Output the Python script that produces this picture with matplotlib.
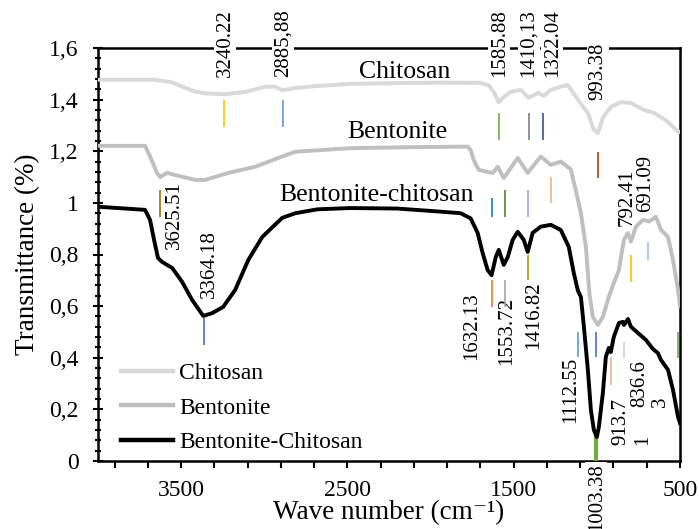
import matplotlib
matplotlib.use("Agg")
import matplotlib.pyplot as plt
from matplotlib.ticker import FixedLocator, MultipleLocator, FuncFormatter

plt.rcParams['font.family'] = ['Liberation Serif', 'DejaVu Serif']

# ---------------- data ----------------
chitosan_wn = [4000, 3660, 3560, 3500, 3420, 3355, 3235, 3114, 2994, 2934, 2892, 2813, 2700, 2482,
               2200, 1940, 1700, 1650, 1620, 1590, 1560, 1518, 1458, 1410, 1355, 1319, 1277, 1217,
               1175, 1114, 1054, 1018, 994, 964, 916, 855, 795, 717, 657, 572, 512, 500]
chitosan_t = [1.477, 1.477, 1.468, 1.452, 1.432, 1.424, 1.421, 1.430, 1.450, 1.450, 1.436, 1.445, 1.452,
              1.461, 1.464, 1.466, 1.465, 1.455, 1.430, 1.390, 1.410, 1.430, 1.438, 1.407, 1.426, 1.415,
              1.438, 1.450, 1.457, 1.400, 1.348, 1.283, 1.270, 1.330, 1.372, 1.390, 1.387, 1.360, 1.349,
              1.314, 1.275, 1.275]

bentonite_wn = [4000, 3717, 3687, 3645, 3627, 3584, 3536, 3416, 3355, 3217, 3054, 2892, 2813, 2482,
                2100, 1777, 1759, 1741, 1711, 1657, 1627, 1596, 1560, 1476, 1416, 1337, 1277, 1217,
                1157, 1120, 1096, 1066, 1045, 1024, 994, 964, 928, 898, 867, 855, 837, 813, 795, 765,
                723, 687, 645, 614, 572, 542, 512, 500]
bentonite_t = [1.221, 1.221, 1.180, 1.116, 1.100, 1.116, 1.108, 1.089, 1.089, 1.116, 1.140, 1.180,
               1.198, 1.212, 1.216, 1.218, 1.205, 1.167, 1.128, 1.120, 1.116, 1.140, 1.096, 1.174,
               1.116, 1.180, 1.147, 1.160, 1.130, 1.030, 0.960, 0.830, 0.650, 0.558, 0.527, 0.558,
               0.636, 0.690, 0.740, 0.790, 0.857, 0.883, 0.850, 0.908, 0.934, 0.928, 0.946, 0.895,
               0.868, 0.779, 0.663, 0.600]

composite_wn = [4000, 3717, 3687, 3663, 3639, 3614, 3554, 3494, 3434, 3367, 3313, 3247, 3175, 3096,
                3012, 2892, 2813, 2681, 2482, 2200, 1940, 1819, 1759, 1717, 1687, 1657, 1633, 1608,
                1590, 1560, 1536, 1506, 1476, 1440, 1416, 1386, 1337, 1277, 1217, 1169, 1139, 1114,
                1096, 1078, 1054, 1036, 1018, 1000, 988, 964, 946, 928, 916, 898, 867, 843, 837, 813,
                795, 753, 705, 663, 633, 614, 572, 542, 512, 500]
composite_t = [0.985, 0.973, 0.934, 0.857, 0.786, 0.771, 0.748, 0.694, 0.624, 0.562, 0.573, 0.597,
               0.663, 0.779, 0.868, 0.942, 0.960, 0.975, 0.980, 0.978, 0.966, 0.960, 0.940, 0.884,
               0.806, 0.740, 0.720, 0.790, 0.818, 0.760, 0.790, 0.857, 0.888, 0.857, 0.810, 0.884,
               0.908, 0.915, 0.895, 0.830, 0.729, 0.660, 0.636, 0.520, 0.353, 0.198, 0.120, 0.093,
               0.132, 0.263, 0.403, 0.438, 0.422, 0.481, 0.535, 0.539, 0.527, 0.550, 0.520, 0.496,
               0.469, 0.434, 0.418, 0.391, 0.353, 0.275, 0.171, 0.147]

series_names = ["Chitosan", "Bentonite", "Bentonite-Chitosan"]
series_titles = ["Chitosan", "Bentonite", "Bentonite-chitosan"]

# peak marker wavenumbers (short vertical lines)
marker_wn = [3240.22, 2885.88, 1585.88, 1410.13, 1322.04, 993.38, 3625.51, 3364.18,
             1632.13, 1553.72, 1416.82, 1277.0, 1632.13, 1553.72, 1416.82,
             1112.55, 1003.38, 1003.38, 913.7, 836.6, 792.41, 691.09, 512.0]
# peak labels
label_text = ["3240.22", "2885,88", "1585.88", "1410,13", "1322.04", "993.38", "3625.51", "3364.18",
              "1632.13", "1553.72", "1416.82", "1112.55", "1003.38", "913.7\n1", "836.6\n3",
              "792.41", "691.09"]

# ---------------- layout / styles ----------------
marker_y = [(1.295, 1.399), (1.295, 1.399), (1.244, 1.349), (1.244, 1.349), (1.244, 1.349),
            (1.097, 1.198), (0.946, 1.050), (0.450, 0.554),
            (0.946, 1.019), (0.946, 1.050), (0.946, 1.050), (1.000, 1.100),
            (0.597, 0.700), (0.597, 0.700), (0.700, 0.800),
            (0.403, 0.500), (0.403, 0.500), (0.000, 0.108), (0.295, 0.403), (0.400, 0.460),
            (0.694, 0.800), (0.780, 0.850), (0.400, 0.500)]
marker_col = ["#FFC000", "#5B9BD5", "#70AD47", "#7F7F7F", "#2F5597", "#9E480E", "#997300", "#4472C4",
              "#2E75B6", "#548235", "#8FAADC", "#F4B183", "#ED7D31", "#A5A5A5", "#BF9000",
              "#5B9BD5", "#4472C4", "#70AD47", "#F4B183", "#D0D0D0", "#FFC000", "#9DC3E6", "#70AD47"]
marker_lw = [1.2] * 17 + [3.0] + [1.2] * 5

# label anchor positions (x in wavenumber, y in transmittance), alignment
label_pos = [(3235, 1.618, 'center'), (2886, 1.618, 'center'), (1586, 1.618, 'center'),
             (1410, 1.618, 'center'), (1268, 1.618, 'center'), (993, 1.508, 'center'),
             (3540, 0.952, 'center'), (3330, 0.763, 'center'),
             (1750, 0.523, 'center'), (1540, 0.504, 'center'), (1380, 0.566, 'center'),
             (1160, 0.274, 'center'), (1003, -0.14, 'center'),
             (790, 0.062, 'bottom'), (680, 0.209, 'bottom'),
             (820, 1.023, 'center'), (705, 1.075, 'center')]

fig = plt.figure(figsize=(6.99, 5.29), dpi=100)
ax = fig.add_axes([98 / 699, (529 - 461) / 529, 582 / 699, 413 / 529])

ax.plot(chitosan_wn, chitosan_t, color="#D9D9D9", lw=2.8, zorder=3, label=series_names[0],
        solid_joinstyle='round')
ax.plot(bentonite_wn, bentonite_t, color="#BFBFBF", lw=2.8, zorder=3, label=series_names[1],
        solid_joinstyle='round')
ax.plot(composite_wn, composite_t, color="black", lw=2.8, zorder=3.2, label=series_names[2],
        solid_joinstyle='round')

for wn, (y0, y1), c, lw in zip(marker_wn, marker_y, marker_col, marker_lw):
    ax.plot([wn, wn], [y0, y1], color=c, lw=lw, zorder=3.1, solid_capstyle='butt')

for txt, (x, y, va) in zip(label_text, label_pos):
    ax.text(x, y, txt, rotation=90, ha='center', va=va, fontsize=15, multialignment='left',
            linespacing=1.15, zorder=2.7, clip_on=False,
            bbox=dict(facecolor='white', edgecolor='none', pad=1.0))

title_pos = [(2157, 1.484), (2199, 1.252), (2325, 1.008)]
for t, (x, y) in zip(series_titles, title_pos):
    ax.text(x, y, t, ha='center', va='baseline', fontsize=18.5, zorder=2.7)

ax.set_xlim(4000, 500)
ax.set_ylim(0, 1.6)
ax.xaxis.set_major_locator(FixedLocator([3500, 2500, 1500, 500]))
ax.xaxis.set_minor_locator(MultipleLocator(200, offset=100))
ax.yaxis.set_major_locator(MultipleLocator(0.2))
ax.yaxis.set_minor_locator(MultipleLocator(0.04))


def yfmt(v, pos):
    s = f"{v:.1f}"
    if s.endswith(".0"):
        s = s[:-2]
    return s.replace(".", ",")


ax.yaxis.set_major_formatter(FuncFormatter(yfmt))
ax.tick_params(axis='x', which='both', direction='out', length=5, width=1.5, labelsize=17, pad=9,
               top=False)
ax.tick_params(axis='y', which='major', direction='inout', length=7, width=1.5, labelsize=17, pad=10.5,
               right=False)
ax.tick_params(axis='y', which='minor', direction='inout', length=5, width=1.5, right=False)
for s in ax.spines.values():
    s.set_linewidth(1.8)

ax.set_xlabel("Wave number (cm\u207b\u00b9)", fontsize=19.5, labelpad=-1)
ax.set_ylabel("Transmittance (%)", fontsize=19.5, labelpad=6)

leg = ax.legend(loc='upper left', bbox_to_anchor=(0.040, 0.238), frameon=False, fontsize=17,
                handlelength=2.2, handletextpad=0.25, labelspacing=0.55, borderpad=0,
                borderaxespad=0)
for h in leg.get_lines():
    h.set_linewidth(3.2)

fig.savefig("out.png", dpi=100)
